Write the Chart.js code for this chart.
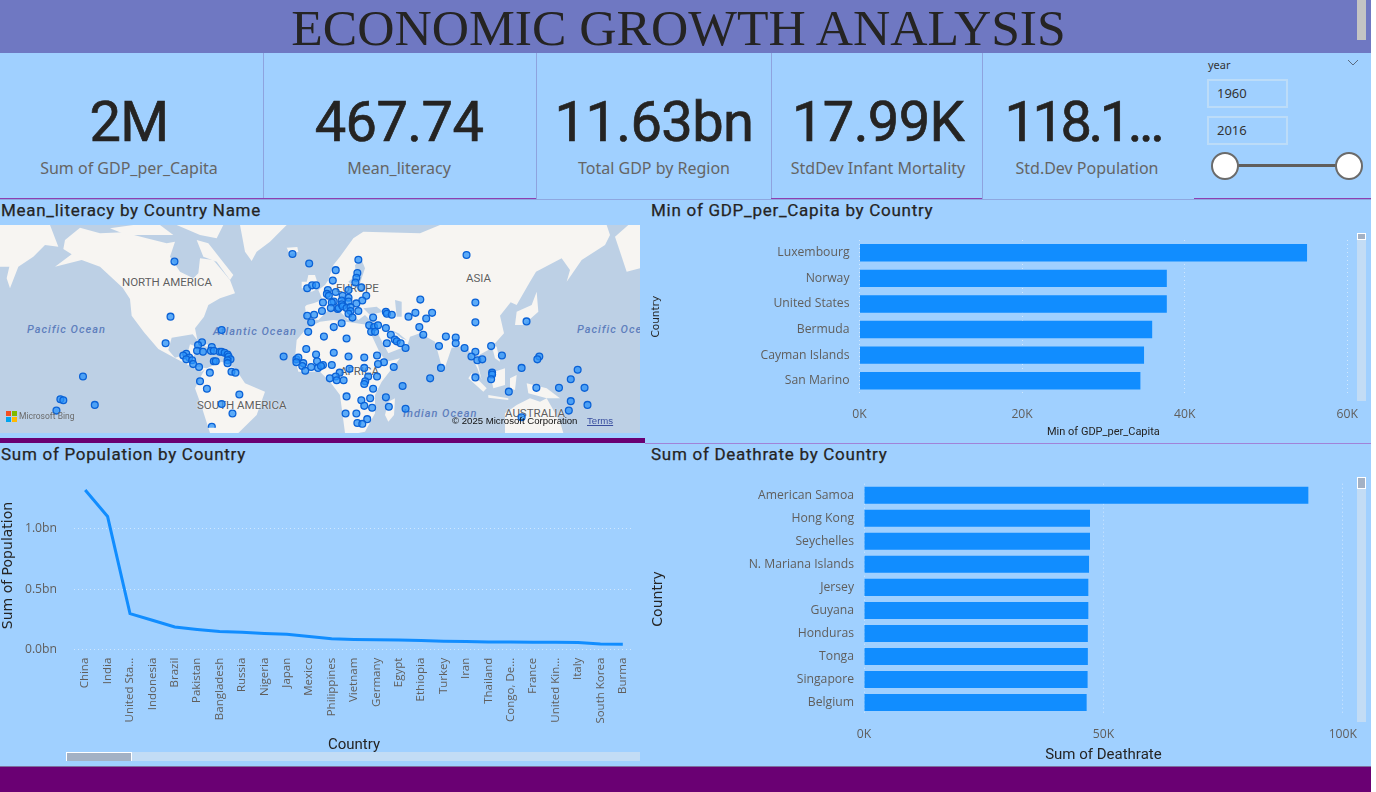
<!DOCTYPE html>
<html>
<head>
<meta charset="utf-8">
<title>Economic Growth Analysis</title>
<script src="https://cdn.jsdelivr.net/npm/chart.js@4/dist/chart.umd.min.js"></script>
<style>
html, body { margin: 0; padding: 0; background: #fff; overflow: hidden; }
#page { position: relative; width: 1376px; height: 792px; overflow: hidden; }
#page div, #page canvas, #page svg { position: absolute; }
.panel { background: #a0d0ff; }
.kpi { font: 400 56px Roboto, sans-serif; color: #252423; -webkit-text-stroke: .7px #252423; transform: translate(-50%, -50%); top: 122px; white-space: nowrap; letter-spacing: -.6px; }
.sub { font: 400 16px "Noto Sans", sans-serif; color: #656565; transform: translate(-50%, -50%); top: 168px; white-space: nowrap; }
.head { font: 400 17px Roboto, sans-serif; color: #252423; -webkit-text-stroke: .25px #252423; white-space: nowrap; transform: translateY(-50%); letter-spacing: .72px; }
.mlab { font: 400 11.5px Roboto, sans-serif; color: #5f5f5f; white-space: nowrap; transform: translateY(-50%); text-shadow: 0 0 2px #fff; }
.ocean { font: italic 500 11px Roboto, sans-serif; color: #5f7fbd; white-space: nowrap; transform: translateY(-50%); letter-spacing: 1px; }
.box { left: 1207px; width: 77px; height: 25px; border: 2px solid #bcdcf8; font: 400 13px "Noto Sans", sans-serif; color: #333; line-height: 25px; text-indent: 8px; }
.knob { width: 24px; height: 24px; border: 2px solid #6b6b6b; border-radius: 50%; background: #fff; top: 152px; }
</style>
</head>
<body>
<div id="page">
  <div class="panel" style="left:0;top:0;width:1371px;height:767px"></div>

  <!-- header band -->
  <div style="left:0;top:0;width:1371px;height:53px;background:#6f78c2"></div>
  <div id="mainTitle" style="left:678.5px;top:27px;transform:translate(-50%,-50%);font:400 51.6px 'Liberation Serif',serif;color:#252423;white-space:nowrap">ECONOMIC GROWTH ANALYSIS</div>
  <div style="left:1357px;top:0;width:9px;height:40px;background:#c4c4c4"></div>

  <!-- KPI cards -->
  <div style="left:263px;top:53px;width:1px;height:146px;background:#8ea3de"></div>
  <div style="left:536px;top:53px;width:1px;height:146px;background:#8ea3de"></div>
  <div style="left:771px;top:53px;width:1px;height:146px;background:#8ea3de"></div>
  <div style="left:982px;top:53px;width:1px;height:146px;background:#8ea3de"></div>
  <div style="left:0;top:199px;width:1371px;height:1px;background:#8ea7e0"></div>
  <div style="left:0;top:198px;width:536px;height:1px;background:#8e3fb0"></div>
  <div style="left:771px;top:198px;width:211px;height:1px;background:#8e3fb0"></div>
  <div style="left:1194px;top:198px;width:177px;height:1px;background:#8e3fb0"></div>

  <div class="kpi" style="left:129px">2M</div>
  <div class="sub" style="left:129px">Sum of GDP_per_Capita</div>
  <div class="kpi" style="left:399px">467.74</div>
  <div class="sub" style="left:399px">Mean_literacy</div>
  <div class="kpi" style="left:654px">11.63bn</div>
  <div class="sub" style="left:654px">Total GDP by Region</div>
  <div class="kpi" style="left:878px">17.99K</div>
  <div class="sub" style="left:878px">StdDev Infant Mortality</div>
  <div class="kpi" style="left:1083px;letter-spacing:-3.5px">118.1...</div>
  <div class="sub" style="left:1087px">Std.Dev Population</div>

  <!-- year slicer -->
  <div style="left:1208px;top:57px;font:400 11px 'Noto Sans',sans-serif;color:#333">year</div>
  <svg style="left:1347px;top:59px" width="12" height="8"><path d="M1 1 L6 6 L11 1" fill="none" stroke="#5a6a80" stroke-width="1"/></svg>
  <div class="box" style="top:79px">1960</div>
  <div class="box" style="top:116px">2016</div>
  <div style="left:1225px;top:164px;width:124px;height:3px;background:#605e5c"></div>
  <div class="knob" style="left:1211px"></div>
  <div class="knob" style="left:1335px"></div>

  <!-- panel titles -->
  <div class="head" style="left:1px;top:210px">Mean_literacy by Country Name</div>
  <div class="head" style="left:651px;top:210px">Min of GDP_per_Capita by Country</div>
  <div class="head" style="left:1px;top:454px">Sum of Population by Country</div>
  <div class="head" style="left:651px;top:454px">Sum of Deathrate by Country</div>

  <!-- map -->
  <div style="left:0;top:225px;width:640px;height:208px;overflow:hidden;background:#bdd0e5">
    <svg style="left:0;top:0;filter:blur(.6px)" width="640" height="208" viewBox="0 0 1920 624">
      <g fill="#f7f5f2">
        <polygon points="0,0 150,0 175,65 135,60 100,95 55,125 30,190 20,160 28,125 0,125"/>
        <polygon points="195,45 240,8 300,25 370,22 440,40 500,55 525,50 510,95 540,140 580,160 595,145 600,100 640,105 690,165 705,205 660,220 625,240 612,275 585,310 592,345 578,328 515,338 505,375 525,398 562,388 570,358 590,365 580,400 590,425 620,430 605,440 575,425 530,402 475,372 432,322 395,272 390,222 368,188 300,125 245,105 165,125 215,88 190,72"/>
        <polygon points="615,432 665,410 705,430 735,475 795,500 770,570 715,624 630,624 605,545 585,490 605,450"/>
        <polygon points="590,350 650,365 640,370 590,358"/>
        <polygon points="655,372 685,375 680,382 655,380"/>
        <polygon points="330,10 400,0 480,0 520,30 450,30 380,30"/>
        <polygon points="530,0 670,0 650,40 600,30"/>
        <polygon points="590,45 625,55 700,150 690,165 650,110 610,95"/>
        <polygon points="720,0 860,0 810,50 770,80 755,108 735,80"/>
        <polygon points="860,68 892,66 895,80 870,88"/>
        <polygon points="925,150 945,150 958,190 935,200 915,195"/>
        <polygon points="905,170 925,170 920,190 905,190"/>
        <g transform="translate(960,0)">
          <polygon points="-45,245 -40,280 -5,285 25,255 50,250 85,285 95,265 115,285 135,270 150,285 178,292 165,310 205,385 262,362 270,335 300,325 345,350 370,442 395,368 440,362 472,430 485,465 468,395 510,372 552,325 540,272 572,232 590,240 630,170 648,140 725,100 750,135 740,170 785,105 855,60 870,30 860,0 360,0 300,25 130,20 100,40 60,95 40,120 25,165 15,180 -5,195 8,225 -20,235 -40,240"/>
          <polygon points="-75,400 -70,345 -40,310 0,290 40,285 110,295 145,300 152,325 180,385 200,410 240,400 185,470 165,510 165,565 135,620 115,624 75,624 60,510 30,470 0,440 -65,440"/>
          <polygon points="205,530 225,520 222,570 205,590 195,570"/>
          <polygon points="590,260 635,240 650,200 655,260 610,300 585,300"/>
          <polygon points="515,360 530,365 540,410 525,400"/>
          <polygon points="455,445 500,490 490,500 445,460"/>
          <polygon points="505,510 565,520 565,525 505,518"/>
          <polygon points="510,445 555,430 555,480 520,490"/>
          <polygon points="570,460 590,450 585,495 570,490"/>
          <polygon points="620,475 680,490 720,520 680,520 625,505"/>
          <polygon points="555,565 590,540 630,520 660,530 680,520 720,590 730,624 555,624"/>
          <polygon points="885,35 925,0 960,0 960,130 920,140"/>
        </g>
      </g>
      <g fill="#bdd0e5" transform="translate(960,0)">
        <polygon points="105,120 125,105 135,130 120,175 95,180 85,170 108,150"/>
        <polygon points="130,250 170,245 190,260 150,270"/>
        <polygon points="225,225 245,230 245,275 230,275"/>
        <polygon points="215,315 245,340 260,345 235,325"/>
      </g>
    </svg>
    <div class="mlab" style="left:122px;top:57px">NORTH AMERICA</div>
    <div class="mlab" style="left:197px;top:180px">SOUTH AMERICA</div>
    <div class="mlab" style="left:336px;top:63px">EUROPE</div>
    <div class="mlab" style="left:466px;top:53px">ASIA</div>
    <div class="mlab" style="left:340px;top:146px">AFRICA</div>
    <div class="mlab" style="left:505px;top:188px">AUSTRALIA</div>
    <div class="ocean" style="left:27px;top:104px">Pacific Ocean</div>
    <div class="ocean" style="left:213px;top:106px">Atlantic Ocean</div>
    <div class="ocean" style="left:403px;top:188px">Indian Ocean</div>
    <div class="ocean" style="left:577px;top:104px">Pacific Ocean</div>
    <canvas id="mapChart" width="640" height="208" style="left:0;top:0"></canvas>
    <div style="left:6px;top:186px;width:5px;height:5px;background:#f25022"></div>
    <div style="left:12px;top:186px;width:5px;height:5px;background:#7fba00"></div>
    <div style="left:6px;top:192px;width:5px;height:5px;background:#00a4ef"></div>
    <div style="left:12px;top:192px;width:5px;height:5px;background:#ffb900"></div>
    <div style="left:19px;top:186px;font:400 8.5px Roboto,sans-serif;color:#6a6a6a;white-space:nowrap">Microsoft Bing</div>
    <div style="left:452px;top:190px;font:400 9.6px 'Liberation Sans',sans-serif;color:#111;white-space:nowrap">© 2025 Microsoft Corporation</div>
    <div style="left:587px;top:190px;font:400 9.6px 'Liberation Sans',sans-serif;color:#3a4fa0;text-decoration:underline">Terms</div>
  </div>
  <div style="left:0;top:438px;width:645px;height:5px;background:#6a0073"></div>
  <div style="left:645px;top:443px;width:726px;height:1px;background:#a183d8"></div>

  <!-- charts -->
  <canvas id="gdpChart" width="724" height="216" style="left:648px;top:225px"></canvas>
  <div style="left:1357px;top:233px;width:9px;height:168px;background:#c2dcf5"></div>
  <div style="left:1357px;top:233px;width:7px;height:5px;background:#a3b1c4;border:1px solid #fff"></div>

  <canvas id="popChart" width="650" height="297" style="left:0;top:457px"></canvas>
  <div style="left:66px;top:752px;width:574px;height:9px;background:#c2dcf5"></div>
  <div style="left:66px;top:752px;width:64px;height:8px;background:#a3b1c4;border:1px solid #fff;border-bottom:0"></div>

  <canvas id="deathChart" width="726" height="302" style="left:644px;top:465px"></canvas>
  <div style="left:1357px;top:477px;width:9px;height:245px;background:#c2dcf5"></div>
  <div style="left:1357px;top:477px;width:7px;height:10px;background:#a3b1c4;border:1px solid #fff"></div>

  <!-- footer -->
  <div style="left:0;top:766px;width:1371px;height:1px;background:#7c6f9e"></div>
  <div style="left:0;top:767px;width:1371px;height:25px;background:#6a0073"></div>
</div>

<script>
// bars: min GDP per capita
const gdpCountries = ["Luxembourg", "Norway", "United States", "Bermuda", "Cayman Islands", "San Marino"];
const gdpValues = [55050, 37800, 37800, 36000, 35000, 34550];

// bars: sum of death rate
const deathCountries = ["American Samoa", "Hong Kong", "Seychelles", "N. Mariana Islands", "Jersey", "Guyana", "Honduras", "Tonga", "Singapore", "Belgium"];
const deathValues = [92800, 47200, 47200, 47000, 46850, 46850, 46750, 46750, 46700, 46500];

// line: sum of population, in billions
const popCountries = ["China", "India", "United Sta...", "Indonesia", "Brazil", "Pakistan", "Bangladesh", "Russia", "Nigeria", "Japan", "Mexico", "Philippines", "Vietnam", "Germany", "Egypt", "Ethiopia", "Turkey", "Iran", "Thailand", "Congo, De...", "France", "United Kin...", "Italy", "South Korea", "Burma"];
const popValues = [1.32, 1.10, 0.298, 0.243, 0.188, 0.167, 0.15, 0.144, 0.134, 0.128, 0.11, 0.09, 0.085, 0.082, 0.08, 0.075, 0.07, 0.068, 0.064, 0.063, 0.062, 0.061, 0.059, 0.048, 0.046];

// map bubbles in its own 640x208 grid
const pointsAmericas = [[172,33],[168,91],[163,119],[220,105],[200,118],[196,121],[195,127],[201,128],[210,123],[209,127],[212,127],[218,128],[220,128],[223,129],[226,131],[227,133],[229,136],[226,137],[226,140],[184,130],[181,132],[187,134],[184,136],[190,137],[191,141],[197,144],[212,138],[214,138],[208,150],[230,149],[234,150],[198,159],[205,167],[238,173],[220,183],[231,193],[210,207]];
const pointsPacific = [[79,154],[56,178],[59,179],[91,184],[52,190]];
const pointsEurope = [[292,25],[309,35],[307,61],[312,58],[316,58],[307,90],[314,89],[311,97],[359,31],[336,42],[358,45],[357,50],[356,55],[333,53],[328,63],[327,67],[329,69],[336,65],[349,63],[362,60],[367,69],[363,74],[357,77],[343,69],[349,71],[349,75],[342,74],[334,75],[332,76],[323,76],[322,85],[331,82],[338,83],[339,82],[342,78],[343,80],[347,82],[351,81],[351,85],[349,88],[359,85],[353,92]];
const pointsAsia = [[374,92],[370,100],[375,102],[379,100],[387,86],[388,88],[393,89],[387,103],[410,91],[469,26],[478,76],[478,97],[530,96],[422,73],[417,87],[428,93],[434,87],[421,102],[425,110],[448,112],[458,113],[458,119],[441,122],[467,124],[494,122],[478,128],[474,133],[480,137],[485,136],[505,132],[543,133],[541,136],[525,145],[443,145],[432,156],[478,155],[495,150],[495,152],[494,157],[582,147],[575,157],[540,166],[563,166],[589,166],[512,170],[575,180],[592,184],[573,190],[525,197],[372,107],[376,107],[392,110],[396,115],[398,117],[402,119],[407,124],[388,119]];
const pointsAfrica = [[342,98],[334,102],[308,107],[306,125],[283,133],[316,131],[296,136],[298,134],[296,139],[303,140],[302,143],[305,148],[311,144],[317,138],[318,145],[324,112],[347,114],[334,129],[349,133],[365,134],[378,132],[385,139],[379,141],[395,144],[332,142],[323,142],[321,143],[350,146],[365,145],[340,150],[336,154],[330,156],[337,158],[344,158],[369,154],[378,154],[366,159],[365,162],[374,167],[347,175],[362,179],[371,177],[365,185],[373,187],[346,193],[357,193],[368,199],[358,203],[363,204],[387,176],[390,186],[404,164],[407,188]];

const BLUE = "#118dff";
const GRID = { color: "rgba(255,255,255,.5)", lineWidth: 1, drawTicks: false };
const TICK_FONT = { family: "'Open Sans', sans-serif", size: 12.2 };
const TICK_COLOR = "#605e5c";

Chart.defaults.animation = false;
Chart.defaults.responsive = false;
Chart.defaults.plugins.legend.display = false;
Chart.defaults.plugins.tooltip.enabled = false;

function fixedWidth(w) {
    return scale => { scale.width = w; };
}
function fixedHeight(h) {
    return scale => { scale.height = h; };
}
function thousands(v) {
    return v / 1000 + "K";
}

function barChart(id, labels, values, o) {
    return new Chart(document.getElementById(id), {
        type: "bar",
        data: {
            labels,
            datasets: [{ data: values, backgroundColor: BLUE, barPercentage: o.barPct, categoryPercentage: 1 }],
        },
        options: {
            indexAxis: "y",
            layout: { padding: { top: o.top, right: o.right, left: 0, bottom: 0 } },
            scales: {
                x: {
                    min: 0, max: o.max,
                    afterFit: fixedHeight(o.xHeight),
                    grid: GRID,
                    border: { display: false, dash: [1, 3] },
                    ticks: { stepSize: o.step, callback: thousands, color: TICK_COLOR, font: TICK_FONT, padding: o.xPad, maxRotation: 0 },
                    title: { display: true, text: o.xTitle, color: "#252423", font: o.xTitleFont, padding: o.xTitlePad },
                },
                y: {
                    afterFit: fixedWidth(o.yWidth),
                    grid: { display: false },
                    border: { display: false },
                    ticks: { color: TICK_COLOR, font: TICK_FONT, padding: o.yPad, autoSkip: false },
                    title: { display: true, text: "Country", color: "#252423", font: o.yTitleFont, padding: o.yTitlePad },
                },
            },
        },
    });
}

barChart("gdpChart", gdpCountries, gdpValues, {
    barPct: 0.68, top: 15, right: 17, max: 60000, step: 20000,
    xHeight: 47.5, yWidth: 211.5, xPad: 14, yPad: 2,
    xTitle: "Min of GDP_per_Capita",
    xTitleFont: { family: "Roboto, sans-serif", size: 11 },
    yTitleFont: { family: "'DejaVu Sans', sans-serif", size: 10.5 },
    xTitlePad: { top: 0, bottom: 2 }, yTitlePad: { top: 2, bottom: 0 },
});

barChart("deathChart", deathCountries, deathValues, {
    barPct: 0.74, top: 18.7, right: 23, max: 100000, step: 50000,
    xHeight: 52.9, yWidth: 220, xPad: 13, yPad: 2,
    xTitle: "Sum of Deathrate",
    xTitleFont: { family: "Roboto, sans-serif", size: 15 },
    yTitleFont: { family: "'DejaVu Sans', sans-serif", size: 14 },
    xTitlePad: { top: 0, bottom: 3 }, yTitlePad: { top: 6, bottom: 0 },
});

new Chart(document.getElementById("popChart"), {
    type: "line",
    data: {
        labels: popCountries,
        datasets: [{ data: popValues, borderColor: BLUE, borderWidth: 3, pointRadius: 0, tension: 0, fill: false }],
    },
    options: {
        layout: { padding: { top: 12, right: 16, left: 0, bottom: 0 } },
        scales: {
            x: {
                offset: true,
                afterFit: fixedHeight(104.3),
                grid: { display: false },
                border: { display: false },
                ticks: { color: TICK_COLOR, font: { family: "'Open Sans', sans-serif", size: 11.5 }, minRotation: 90, maxRotation: 90, autoSkip: false, padding: 0 },
                title: { display: true, text: "Country", color: "#252423", font: { family: "Roboto, sans-serif", size: 15 }, padding: { top: 0, bottom: 0 } },
            },
            y: {
                min: 0, max: 1.391,
                afterFit: fixedWidth(74),
                grid: GRID,
                border: { display: false, dash: [1, 3] },
                ticks: { stepSize: 0.5, includeBounds: false, callback: v => v.toFixed(1) + "bn", color: TICK_COLOR, font: TICK_FONT, padding: 17 },
                title: { display: true, text: "Sum of Population", color: "#252423", font: { family: "'DejaVu Sans', sans-serif", size: 14 }, padding: { top: 0, bottom: 0 } },
            },
        },
    },
});

new Chart(document.getElementById("mapChart"), {
    type: "scatter",
    data: {
        datasets: [{
            data: [...pointsAmericas, ...pointsPacific, ...pointsEurope, ...pointsAsia, ...pointsAfrica].map(([x, y]) => ({ x, y })),
            backgroundColor: "rgba(40,145,250,.75)",
            borderColor: "#0b62d6",
            borderWidth: 1.3,
            pointRadius: 3.4,
        }],
    },
    options: {
        scales: {
            x: { display: false, min: 0, max: 640 },
            y: { display: false, min: 0, max: 208, reverse: true },
        },
    },
});
</script>
</body>
</html>
